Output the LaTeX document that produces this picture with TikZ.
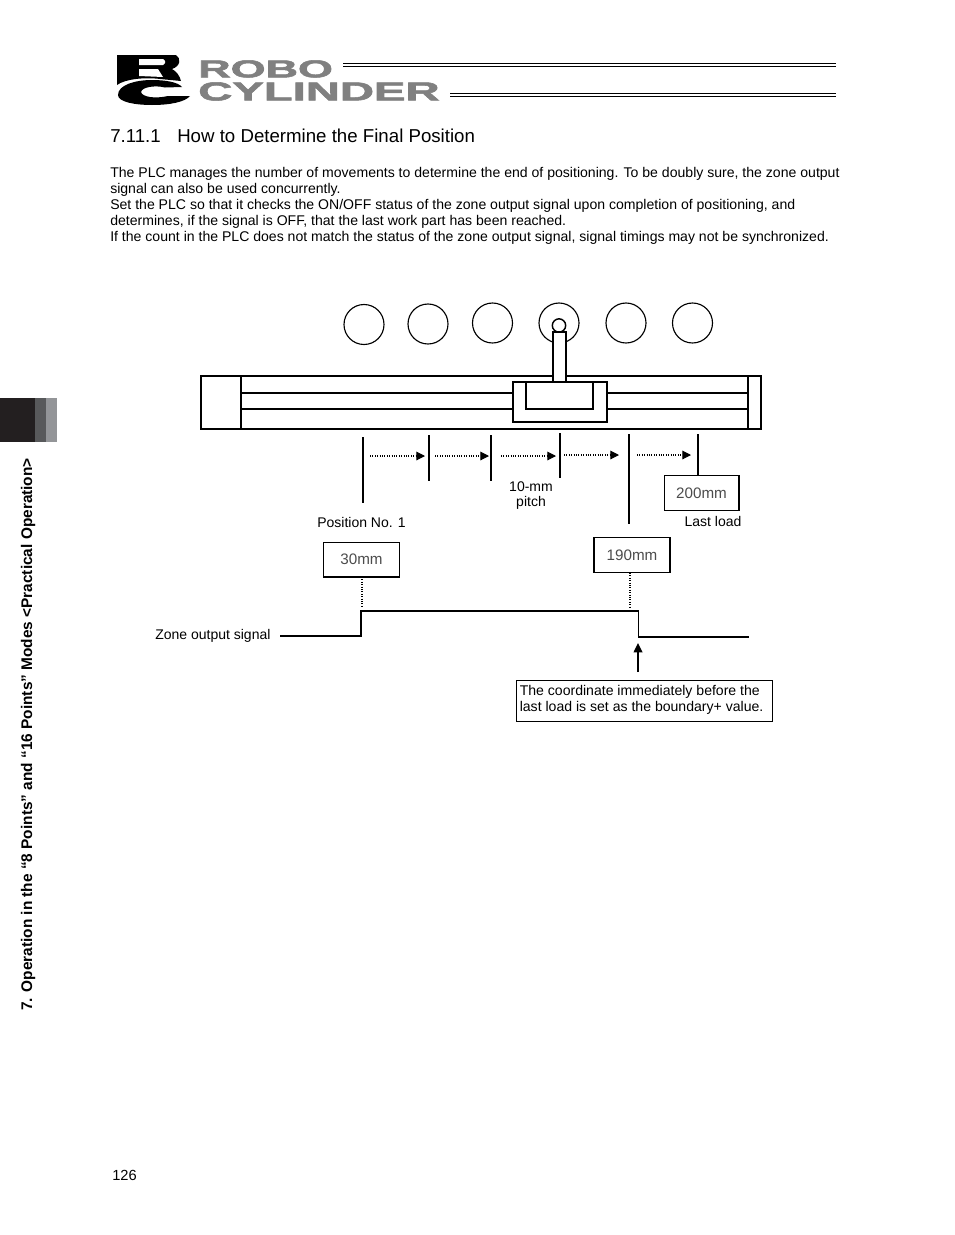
\documentclass[tikz,border=0pt]{standalone}
\usepackage{fontspec}
\usepackage{graphicx}
\setmainfont{Liberation Sans}
\newfontfamily\logofont[UprightFont=* Bold,FakeBold=2]{Liberation Sans}
\usetikzlibrary{arrows.meta}
\definecolor{logogray}{gray}{0.5}
\definecolor{darktab}{HTML}{231F20}
\definecolor{midtab}{HTML}{58595B}
\definecolor{lighttab}{HTML}{939598}
\tikzset{
  x=0.75pt,y=-0.75pt,
  txt/.style={inner sep=0pt,font=\fontsize{10.55pt}{12pt}\selectfont,anchor=base west},
  small/.style={inner sep=0pt,font=\fontsize{10.5pt}{12pt}\selectfont,align=center},
  thinl/.style={line width=0.8pt},
  med/.style={line width=1pt},
  thick2/.style={line width=1.5pt},
  dot/.style={line width=0.8pt,densely dotted},
  dotarrow/.style={dot,-{Triangle[length=6.5pt,width=6.5pt]}},
  station/.style={circle,draw,line width=0.85pt,minimum size=30pt,inner sep=0pt},
  posbox/.style={draw,line width=1pt,minimum width=57pt,minimum height=26pt,inner sep=0pt,font=\fontsize{11.4pt}{12pt}\selectfont,text=black!70},
  logotext/.style={inner sep=0pt,anchor=north west,text=logogray},
}
\begin{document}
\begin{tikzpicture}
\useasboundingbox (0,0) rectangle (954,1235);
\fill[white] (0,0) rectangle (954,1235);
% logo: R
\fill[black] (117,55) -- (176,55) .. controls (181,58) and (181,66) .. (172,69) .. controls (176,71) and (180,76) .. (181,81) -- (160,79) .. controls (145,77) and (125,79) .. (117,85) -- cycle;
\fill[white] (139,59) -- (163,59) .. controls (166,61) and (166,63) .. (163,65) -- (139,65) -- cycle;
\fill[white] (139,69) -- (158,69) -- (163,77) -- (139,76) -- cycle;
% logo: C
\fill[black] (118,95) .. controls (118,85) and (135,80) .. (152,80) .. controls (165,80) and (178,82) .. (182,87) -- (165,87.5) .. controls (155,85) and (142,87) .. (141,92) .. controls (142,97) and (155,99) .. (168,96) -- (190,96) .. controls (185,102) and (170,105) .. (152,105) .. controls (135,105) and (118,102) .. (118,95) -- cycle;
\node[logotext] (robo) at (198,60) {\resizebox{101pt}{12.8pt}{\logofont ROBO}};
\node[logotext] (cyl) at (198,82) {\resizebox{181pt}{13.6pt}{\logofont CYLINDER}};
\draw[line width=0.85pt] (343,63.5) -- (836,63.5);
\draw[line width=0.85pt] (343,66.5) -- (836,66.5);
\draw[line width=0.85pt] (450,93.3) -- (836,93.3);
\draw[line width=0.85pt] (450,96.3) -- (836,96.3);
% heading and text
\node[inner sep=0pt,anchor=base west,font=\fontsize{14pt}{16pt}\selectfont] (head) at (110,142.5) {7.11.1};
\node[inner sep=0pt,anchor=base west,font=\fontsize{14pt}{16pt}\selectfont] (head2) at (177,142.5) {How to Determine the Final Position};
\node[txt] (p1) at (110,177) {The PLC manages the number of movements to determine the end of positioning. To be doubly sure, the zone output};
\node[txt] (p2) at (110,193) {signal can also be used concurrently.};
\node[txt] (p3) at (110,209) {Set the PLC so that it checks the ON/OFF status of the zone output signal upon completion of positioning, and};
\node[txt] (p4) at (110,225) {determines, if the signal is OFF, that the last work part has been reached.};
\node[txt] (p5) at (110,241) {If the count in the PLC does not match the status of the zone output signal, signal timings may not be synchronized.};
% side tab
\fill[darktab] (0,398) rectangle (35,442);
\fill[midtab] (35,398) rectangle (46,442);
\fill[lighttab] (46,398) rectangle (57,442);
\node[rotate=90,anchor=base west,inner sep=0pt,font=\bfseries\fontsize{11.55pt}{12pt}\selectfont] (side) at (32,1011) {7. Operation in the “8 Points” and “16 Points” Modes <Practical Operation>};
\node[inner sep=0pt,anchor=base west,font=\fontsize{11pt}{12pt}\selectfont] (page) at (112,1180) {126};
% stations
\node[station] (s1) at (364,324.5) {};
\node[station] (s2) at (428,324) {};
\node[station] (s3) at (492.5,323) {};
\node[station] (s4) at (559,323) {};
\node[station] (s5) at (626,323) {};
\node[station] (s6) at (692.5,323) {};
% actuator
\draw[thinl] (201,376) rectangle (761,429);
\draw[line width=1.5pt] (201,429) -- (761,429);
\draw[thinl] (241,376) -- (241,429);
\draw[line width=1.2pt] (748,376) -- (748,429);
\draw[thinl] (241,393) -- (513,393);
\draw[thinl] (241,409) -- (513,409);
\draw[thinl] (607,393) -- (748,393);
\draw[thinl] (607,409) -- (748,409);
\draw[thinl,fill=white] (513,382) rectangle (607,422);
\draw[med,fill=white] (526,382) rectangle (593,409);
\node[circle,draw,line width=1.1pt,fill=white,minimum size=10pt,inner sep=0pt] (ball) at (559,325.5) {};
\draw[med,fill=white] (553,332) rectangle (566,382);
% position ticks
\coordinate (t1a) at (363,437); \coordinate (t1b) at (363,503);
\coordinate (t2a) at (429,435); \coordinate (t2b) at (429,481);
\coordinate (t3a) at (491,435); \coordinate (t3b) at (491,481);
\coordinate (t4a) at (560,433); \coordinate (t4b) at (560,478);
\coordinate (t5a) at (629,434); \coordinate (t5b) at (629,524);
\coordinate (t6a) at (698,434);
\draw[thinl] (t1a) -- (t1b);
\draw[line width=1.2pt] (t2a) -- (t2b);
\draw[thinl] (t3a) -- (t3b);
\draw[thinl] (t4a) -- (t4b);
\draw[thick2] (t5a) -- (t5b);
\node[posbox,minimum width=56pt] (b200) at (701.5,493) {200mm};
\draw[thinl] (t6a) -- (b200.north -| t6a);
% dotted arrows
\coordinate (a1a) at (370,456); \coordinate (a1b) at (425,456);
\coordinate (a2a) at (435,456); \coordinate (a2b) at (489,456);
\coordinate (a3a) at (501,456); \coordinate (a3b) at (556,456);
\coordinate (a4a) at (564,455); \coordinate (a4b) at (619,455);
\coordinate (a5a) at (637,455); \coordinate (a5b) at (691,455);
\draw[dotarrow] (a1a) -- (a1b);
\draw[dotarrow] (a2a) -- (a2b);
\draw[dotarrow] (a3a) -- (a3b);
\draw[dotarrow] (a4a) -- (a4b);
\draw[dotarrow] (a5a) -- (a5b);
% labels
\node[small] (pitch) at (531,495.5) {10-mm\\[-0.6pt]pitch};
\node[small,anchor=base] (pos1) at (361.5,527) {Position No. 1};
\node[small,anchor=base] (last) at (713,526) {Last load};
\node[posbox] (b30) at (361.5,559.5) {30mm};
\node[posbox] (b190) at (632,555) {190mm};
% zone signal
\node[small,anchor=base west] (zone) at (155,639) {Zone output signal};
\coordinate (z0) at (280,636); \coordinate (z1) at (361,636); \coordinate (z2) at (361,611);
\coordinate (z3) at (638.5,611); \coordinate (z4) at (638.5,637); \coordinate (z5) at (749,637);
\draw[line width=1.1pt] (z0) -- (z1) -- (z2) -- (z3) -- (z4) -- (z5);
\coordinate (d1) at (362,577); \coordinate (d2) at (362,608);
\coordinate (d3) at (630,573); \coordinate (d4) at (630,608);
\draw[dot] (d1) -- (d2);
\draw[dot] (d3) -- (d4);
\node[draw,line width=0.7pt,inner sep=0pt,minimum width=192pt,minimum height=30.5pt,anchor=north west] (note) at (516,680) {};
\node[txt] (n1) at (519.5,695) {The coordinate immediately before the};
\node[txt] (n2) at (519.5,711) {last load is set as the boundary+ value.};
\coordinate (up0) at (638,672); \coordinate (up1) at (638,643);
\draw[line width=1.1pt,-{Triangle[length=7pt,width=6.5pt]}] (up0) -- (up1);
\end{tikzpicture}
\end{document}
